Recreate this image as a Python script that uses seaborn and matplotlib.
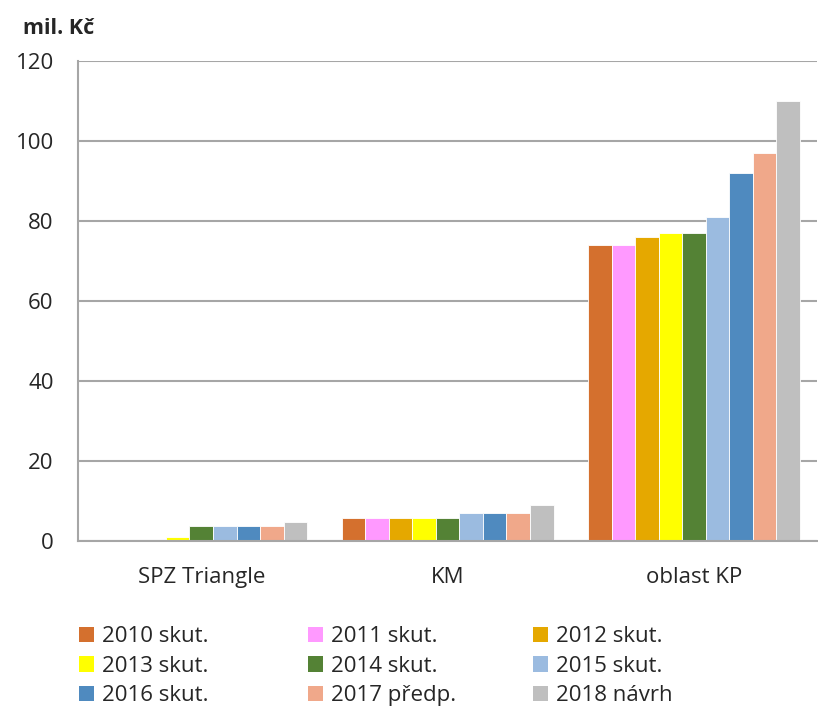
import matplotlib
matplotlib.use("Agg")
import matplotlib.pyplot as plt
from matplotlib.patches import Patch
import seaborn as sns
import pandas as pd

categories = ["SPZ Triangle", "KM", "oblast KP"]
series = ["2010 skut.", "2011 skut.", "2012 skut.", "2013 skut.", "2014 skut.",
          "2015 skut.", "2016 skut.", "2017 předp.", "2018 návrh"]
values_spz = [0, 0, 0, 1, 3.8, 3.8, 3.8, 3.8, 4.8]
values_km = [5.8, 5.8, 5.8, 5.8, 5.8, 7, 7, 7, 9]
values_kp = [74, 74, 76, 77, 77, 81, 92, 97, 110]
colors = ["#D4702E", "#FF99FF", "#E5A800", "#FFFF00", "#548235",
          "#9BBBE0", "#4F8ABF", "#F0A88A", "#BFBFBF"]

rows = []
for cat, vals in zip(categories, [values_spz, values_km, values_kp]):
    for s, v in zip(series, vals):
        rows.append({"cat": cat, "serie": s, "val": v})
df = pd.DataFrame(rows)

sns.set_style("white")
plt.rcParams["font.family"] = ["Open Sans", "DejaVu Sans"]

fig = plt.figure(figsize=(8.18, 7.10), dpi=100)
ax = fig.add_axes([78/818, 1-541/710, 1-78/818-0.001, 480/710])

sns.barplot(data=df, x="cat", y="val", hue="serie", order=categories,
            hue_order=series, palette=colors, width=0.86, ax=ax,
            saturation=1, legend=False, edgecolor="white", linewidth=0.6)

ax.set_ylim(0, 120)
ax.set_xlim(-0.5, 2.5)
ax.set_yticks(range(0, 121, 20))
ax.yaxis.grid(True, color="#A6A6A6", linewidth=1.5)
ax.set_axisbelow(True)
for sp in ["top", "right"]:
    ax.spines[sp].set_visible(False)
ax.spines["left"].set_color("#A6A6A6")
ax.spines["left"].set_linewidth(1.5)
ax.spines["bottom"].set_color("#A6A6A6")
ax.spines["bottom"].set_linewidth(1.5)
ax.set_xlabel("")
ax.set_ylabel("")
ax.tick_params(axis="y", length=7.5, width=1.5, color="#A6A6A6", labelsize=16, pad=10)
ax.tick_params(axis="x", which="major", length=0, labelsize=16, pad=19)
ax.set_xticks([-0.5, 0.5, 1.5, 2.5], minor=True)
ax.tick_params(axis="x", which="minor", length=6, width=1.5, color="#A6A6A6")

fig.text(23/818, 1-28/710, "mil. Kč", fontsize=15.5, fontweight="bold", va="center", ha="left")

col_x = [61, 290, 515]
for c in range(3):
    idx = [c, c + 3, c + 6]
    handles = [Patch(facecolor=colors[i], edgecolor="none") for i in idx]
    labels = [series[i] for i in idx]
    fig.legend(handles, labels, ncol=1, loc="upper left",
               bbox_to_anchor=(col_x[c]/818, 1-608/710), frameon=False,
               fontsize=16, handlelength=0.68, handleheight=0.68,
               handletextpad=0.35, labelspacing=0.38, borderpad=0.32)

fig.savefig("out.png", dpi=100)
